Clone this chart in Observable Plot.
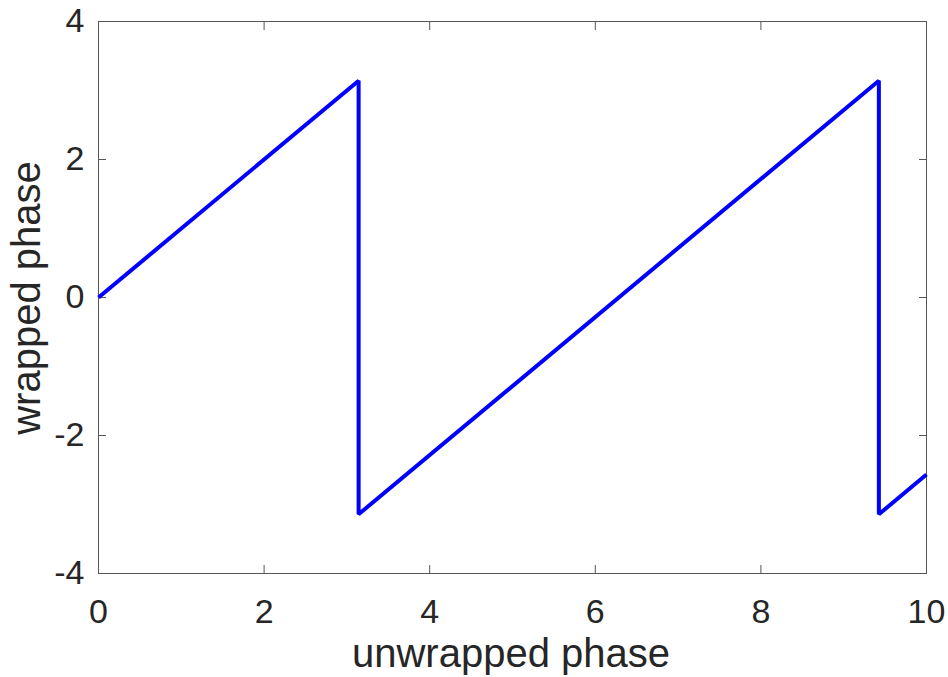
<!DOCTYPE html>
<html>
<head>
<meta charset="utf-8">
<script src="https://cdn.jsdelivr.net/npm/d3@7"></script>
<script src="https://cdn.jsdelivr.net/npm/@observablehq/plot@0.6"></script>
<style>
  html, body { margin: 0; padding: 0; background: #fff; }
  svg { display: block; }
</style>
</head>
<body>
<div id="chart"></div>
<script>
const unwrapped = [0, 3.1416, 3.1416, 9.4248, 9.4248, 10];
const wrapped = [0, 3.1416, -3.1416, 3.1416, -3.1416, -2.5664];
const xTicks = [0, 2, 4, 6, 8, 10];
const yTicks = [-4, -2, 0, 2, 4];

const data = unwrapped.map((x, i) => ({x, y: wrapped[i]}));
const font = "Liberation Sans, Arial, Helvetica, sans-serif";
const axisColor = "#555";
const textColor = "#262626";

const chart = Plot.plot({
  width: 948,
  height: 677,
  marginLeft: 98,
  marginRight: 22,
  marginTop: 21,
  marginBottom: 104,
  style: {fontFamily: font, background: "#fff", color: textColor},
  x: {domain: [0, 10], label: null},
  y: {domain: [-4, 4], label: null},
  marks: [
    Plot.frame({stroke: axisColor, strokeWidth: 1}),
    // inward ticks on all four sides
    Plot.axisX(xTicks, {anchor: "bottom", tickSize: -8, text: null, label: null, stroke: axisColor}),
    Plot.axisX(xTicks, {anchor: "top", tickSize: -8, text: null, label: null, stroke: axisColor}),
    Plot.axisY(yTicks, {anchor: "left", tickSize: -8, text: null, label: null, stroke: axisColor}),
    Plot.axisY(yTicks, {anchor: "right", tickSize: -8, text: null, label: null, stroke: axisColor}),
    // tick labels
    Plot.axisX(xTicks, {anchor: "bottom", tickSize: 0, tickPadding: 25, fontSize: 34, fill: textColor, label: null, tickFormat: d => String(d)}),
    Plot.axisY(yTicks, {anchor: "left", tickSize: 0, tickPadding: 14, fontSize: 34, fill: textColor, label: null, tickFormat: d => String(d)}),
    Plot.line(data, {x: "x", y: "y", stroke: "#0000ff", strokeWidth: 4, strokeLinejoin: "miter", strokeLinecap: "butt"})
  ]
});

// axis titles
const svg = d3.select(chart);
svg.append("text")
  .attr("x", 511).attr("y", 667)
  .attr("text-anchor", "middle")
  .attr("font-size", 40)
  .attr("font-family", font)
  .attr("fill", textColor)
  .text("unwrapped phase");
svg.append("text")
  .attr("transform", "translate(40,298) rotate(-90)")
  .attr("text-anchor", "middle")
  .attr("font-size", 40)
  .attr("font-family", font)
  .attr("fill", textColor)
  .text("wrapped phase");

document.getElementById("chart").appendChild(chart);
</script>
</body>
</html>
